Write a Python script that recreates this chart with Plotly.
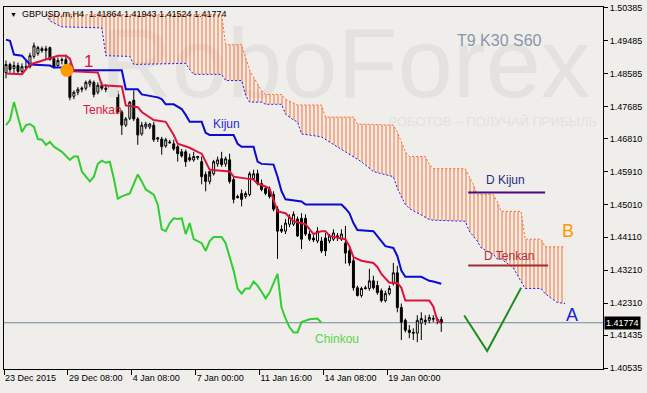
import plotly.graph_objects as go

# ---------------- data (prices) ----------------
bars = list(range(110))
opens = [1.4862,1.4884,1.4873,1.4881,1.4865,1.4878,1.4878,1.4906,1.4914,1.4927,
         1.4922,1.4930,1.4900,1.4881,1.4895,1.4897,1.4881,1.4797,1.4808,1.4816,
         1.4819,1.4830,1.4835,1.4808,1.4827,1.4819,1.4819,1.4822,1.4802,1.4754,
         1.4718,1.4737,1.4786,1.4735,1.4694,1.4713,1.4713,1.4718,1.4680,1.4680,
         1.4661,1.4672,1.4667,1.4659,1.4645,1.4645,1.4629,1.4623,1.4629,1.4618,
         1.4583,1.4564,1.4585,1.4612,1.4626,1.4612,1.4623,1.4569,1.4523,1.4531,
         1.4523,1.4528,1.4572,1.4585,1.4558,1.4545,1.4542,1.4528,1.4488,1.4433,
         1.4428,1.4447,1.4447,1.4461,1.4463,1.4463,1.4420,1.4409,1.4401,1.4401,
         1.4409,1.4401,1.4406,1.4412,1.4406,1.4395,1.4374,1.4347,1.4273,1.4252,
         1.4273,1.4271,1.4292,1.4279,1.4265,1.4238,1.4257,1.4284,1.4314,1.4219,
         1.4184,1.4157,1.4151,1.4149,1.4176,1.4184,1.4184,1.4187,1.4184,1.41864]
highs = [1.4895,1.4889,1.4892,1.4889,1.4887,1.4895,1.4916,1.4944,1.4935,1.4933,
         1.4935,1.4933,1.4903,1.4903,1.4903,1.4911,1.4889,1.4813,1.4822,1.4824,
         1.4840,1.4843,1.4840,1.4835,1.4835,1.4830,1.4835,1.4830,1.4813,1.4759,
         1.4740,1.4784,1.4813,1.4740,1.4727,1.4727,1.4724,1.4727,1.4686,1.4686,
         1.4683,1.4678,1.4678,1.4664,1.4653,1.4651,1.4640,1.4645,1.4634,1.4632,
         1.4591,1.4577,1.4623,1.4632,1.4645,1.4632,1.4640,1.4577,1.4528,1.4542,
         1.4537,1.4591,1.4596,1.4596,1.4569,1.4550,1.4550,1.4537,1.4496,1.4444,
         1.4461,1.4474,1.4482,1.4468,1.4477,1.4474,1.4428,1.4417,1.4439,1.4412,
         1.4423,1.4420,1.4433,1.4423,1.4433,1.4442,1.4387,1.4355,1.4279,1.4276,
         1.4279,1.4325,1.4306,1.4292,1.4271,1.4265,1.4279,1.4341,1.4333,1.4230,
         1.4189,1.4171,1.4162,1.4198,1.4206,1.4198,1.4200,1.4198,1.4192,1.41943]
lows = [1.4846,1.4862,1.4859,1.4857,1.4859,1.4870,1.4873,1.4900,1.4908,1.4916,
        1.4897,1.4895,1.4873,1.4878,1.4884,1.4878,1.4786,1.4789,1.4800,1.4808,
        1.4813,1.4822,1.4794,1.4802,1.4813,1.4808,1.4808,1.4802,1.4748,1.4691,
        1.4713,1.4732,1.4729,1.4664,1.4689,1.4707,1.4707,1.4672,1.4672,1.4637,
        1.4656,1.4667,1.4648,1.4618,1.4629,1.4604,1.4618,1.4618,1.4623,1.4556,
        1.4537,1.4556,1.4580,1.4604,1.4604,1.4604,1.4558,1.4504,1.4517,1.4496,
        1.4517,1.4523,1.4569,1.4553,1.4537,1.4526,1.4517,1.4482,1.4352,1.4423,
        1.4420,1.4439,1.4442,1.4412,1.4379,1.4415,1.4401,1.4398,1.4395,1.4368,
        1.4360,1.4395,1.4401,1.4401,1.4401,1.4339,1.4333,1.4265,1.4249,1.4246,
        1.4268,1.4265,1.4268,1.4254,1.4233,1.4233,1.4252,1.4279,1.4206,1.4130,
        1.4151,1.4135,1.4130,1.4124,1.4130,1.4171,1.4176,1.4179,1.4173,1.41524]
closes = [1.4884,1.4870,1.4881,1.4865,1.4878,1.4876,1.4908,1.4935,1.4930,1.4922,
          1.4927,1.4897,1.4876,1.4895,1.4897,1.4884,1.4794,1.4808,1.4816,1.4819,
          1.4835,1.4838,1.4802,1.4827,1.4819,1.4816,1.4824,1.4813,1.4754,1.4718,
          1.4735,1.4781,1.4735,1.4691,1.4718,1.4721,1.4721,1.4678,1.4683,1.4659,
          1.4678,1.4670,1.4653,1.4640,1.4634,1.4618,1.4623,1.4632,1.4632,1.4577,
          1.4564,1.4591,1.4618,1.4623,1.4610,1.4626,1.4564,1.4515,1.4520,1.4515,
          1.4531,1.4585,1.4585,1.4558,1.4542,1.4531,1.4523,1.4488,1.4428,1.4428,
          1.4450,1.4466,1.4474,1.4415,1.4406,1.4420,1.4406,1.4404,1.4428,1.4374,
          1.4374,1.4415,1.4423,1.4415,1.4420,1.4368,1.4341,1.4273,1.4252,1.4271,
          1.4271,1.4292,1.4273,1.4260,1.4238,1.4257,1.4271,1.4314,1.4219,1.4179,
          1.4157,1.4151,1.4149,1.4184,1.4189,1.4181,1.4192,1.4189,1.4187,1.41774]

tenkan_idx = [0,4,6,11,13,15,16,17,23,24,29,30,33,34,37,40,42,43,46,48,49,50,51,56,57,62,63,
              65,66,68,70,72,75,77,79,80,81,85,86,87,89,92,93,94,96,98,99,100,106,107,108,109]
tenkan = [1.4859,1.4857,1.4884,1.4900,1.4908,1.4908,1.4900,1.4865,1.4862,1.4827,1.4824,1.4772,
          1.4767,1.4754,1.4732,1.4727,1.4691,1.4667,1.4656,1.4645,1.4640,1.4618,1.4596,1.4591,
          1.4577,1.4569,1.4558,1.4550,1.4545,1.4482,1.4477,1.4455,1.4447,1.4420,1.4428,1.4428,
          1.4415,1.4406,1.4387,1.4357,1.4347,1.4341,1.4330,1.4311,1.4287,1.4287,1.4273,1.4238,
          1.4238,1.4222,1.4184,1.4176]

kijun_idx = [0,1,2,4,6,11,12,15,16,29,30,33,34,38,39,40,42,44,45,46,49,50,51,57,58,59,62,63,
             64,67,68,69,70,74,75,84,85,86,87,88,92,94,95,97,98,99,100,104,106,107,109]
kijun = [1.4952,1.4949,1.4911,1.4908,1.4884,1.4881,1.4876,1.4876,1.4868,1.4868,1.4816,1.4816,
         1.4802,1.4794,1.4789,1.4775,1.4775,1.4762,1.4746,1.4727,1.4727,1.4697,1.4691,1.4691,
         1.4667,1.4659,1.4659,1.4618,1.4612,1.4610,1.4577,1.4537,1.4515,1.4509,1.4501,1.4501,
         1.4490,1.4477,1.4450,1.4431,1.4428,1.4401,1.4387,1.4382,1.4360,1.4320,1.4303,1.4303,
         1.4292,1.4290,1.4284]

chinkou_idx = [0,1,2,4,5,6,7,8,9,10,11,12,14,16,17,18,19,21,22,23,24,25,26,27,28,29,31,32,33,
               34,35,37,38,39,40,41,42,43,44,45,46,47,48,49,50,51,52,54,55,56,57,58,59,60,61,
               62,63,64,65,66,67,68,69,70,71,72,73,74,76,78,79]
chinkou = [1.4718,1.4732,1.4781,1.4699,1.4718,1.4721,1.4713,1.4680,1.4678,1.4664,1.4672,1.4659,
           1.4645,1.4623,1.4632,1.4632,1.4591,1.4564,1.4577,1.4612,1.4621,1.4615,1.4618,1.4572,
           1.4517,1.4523,1.4531,1.4558,1.4583,1.4564,1.4542,1.4528,1.4501,1.4433,1.4428,1.4450,
           1.4463,1.4461,1.4463,1.4420,1.4450,1.4406,1.4401,1.4395,1.4374,1.4401,1.4412,1.4412,
           1.4395,1.4355,1.4320,1.4271,1.4257,1.4271,1.4271,1.4290,1.4279,1.4262,1.4244,1.4260,
           1.4284,1.4311,1.4219,1.4189,1.4165,1.4151,1.4151,1.4179,1.4187,1.4189,1.41774]

span_b_idx = [10,54,55,59,60,61,62,64,65,69,70,73,79,80,87,88,97,98,100,101,105,106,107,115,
              116,117,118,122,123,124,129,130,134,135,140]
span_b = [1.5020,1.5020,1.4938,1.4938,1.4903,1.4868,1.4849,1.4813,1.4802,1.4802,1.4789,1.4773,
          1.4773,1.4740,1.4740,1.4721,1.4718,1.4699,1.4645,1.4632,1.4632,1.4610,1.4599,1.4599,
          1.4577,1.4556,1.4528,1.4528,1.4509,1.4482,1.4482,1.4406,1.4406,1.4385,1.4385]
span_a_idx = [10,11,13,14,24,25,31,32,45,46,47,54,55,59,60,61,64,65,69,70,72,73,74,79,81,85,
              89,92,97,98,100,101,106,107,115,116,118,119,122,123,124,127,129,130,134,135,138,140]
span_a = [1.5020,1.5003,1.4992,1.4987,1.4984,1.4908,1.4906,1.4884,1.4887,1.4870,1.4857,1.4857,
          1.4840,1.4840,1.4800,1.4781,1.4781,1.4775,1.4775,1.4748,1.4732,1.4727,1.4694,1.4686,
          1.4672,1.4645,1.4618,1.4591,1.4577,1.4545,1.4501,1.4490,1.4460,1.4458,1.4455,1.4428,
          1.4401,1.4382,1.4365,1.4352,1.4352,1.4328,1.4292,1.4271,1.4271,1.4257,1.4233,1.4230]

tick_bars = [-0.5, 15.5, 31.5, 47.5, 63.5, 79.5, 95.5]
tick_dates = ["23 Dec 2015", "29 Dec 08:00", "4 Jan 08:00", "7 Jan 00:00",
              "11 Jan 16:00", "14 Jan 08:00", "19 Jan 00:00"]
price_ticks = [1.50385, 1.49485, 1.48585, 1.47685, 1.46810, 1.45910, 1.45010,
               1.44110, 1.43210, 1.42310, 1.41435, 1.40535]
price_labels = ["1.50385", "1.49485", "1.48585", "1.47685", "1.46810", "1.45910", "1.45010",
                "1.44110", "1.43210", "1.42310", "1.41435", "1.40535"]

last_price = 1.41774
last_label = "1.41774"
header = "GBPUSD.m,H4  1.41864 1.41943 1.41524 1.41774"

# drawn objects on the chart (bar index, price)
v_bars = [114.75, 120.5, 129.0]
v_prices = [1.4197, 1.4100, 1.4273]
d_kijun_bars = [115.75, 135.0]
d_kijun_price = 1.4534
d_tenkan_bars = [115.75, 135.75]
d_tenkan_price = 1.4334
signal_bar, signal_price = 15.25, 1.4868

BG = "#efeeea"
FONT = "Liberation Sans"

fig = go.Figure()

# watermark (behind everything)
fig.add_trace(go.Scatter(x=[85.0], y=[1.4862], mode="text", text=["RoboForex"],
                         textfont=dict(size=99, color="#e3e2de", family=FONT),
                         hoverinfo="skip", showlegend=False))
fig.add_trace(go.Scatter(x=[148.0], y=[1.4724], mode="text",
                         text=["РОБОТОВ – ПОЛУЧАЙ ПРИБЫЛЬ"], textposition="middle left",
                         textfont=dict(size=13, color="#e2e1dd", family=FONT),
                         hoverinfo="skip", showlegend=False))

# ichimoku cloud
fig.add_trace(go.Scatter(x=span_b_idx, y=span_b, mode="lines",
                         line=dict(color="#ff6a2a", width=1, dash="2px,2px"),
                         hoverinfo="skip", showlegend=False))
fig.add_trace(go.Scatter(x=span_a_idx, y=span_a, mode="lines",
                         line=dict(color="#1a1aff", width=1, dash="2px,2px"),
                         fill="tonexty", fillcolor="rgba(0,0,0,0)",
                         fillpattern=dict(shape="|", fgcolor="#ff6a2a", bgcolor="rgba(0,0,0,0)",
                                          size=4, solidity=0.28, fgopacity=0.9),
                         hoverinfo="skip", showlegend=False))

# chinkou
fig.add_trace(go.Scatter(x=chinkou_idx, y=chinkou, mode="lines",
                         line=dict(color="#32cd32", width=2), showlegend=False))

# candles
fig.add_trace(go.Candlestick(x=bars, open=opens, high=highs, low=lows, close=closes,
                             increasing=dict(fillcolor="white", line=dict(color="black", width=1)),
                             decreasing=dict(fillcolor="black", line=dict(color="black", width=1)),
                             whiskerwidth=0, showlegend=False))

# kijun / tenkan
fig.add_trace(go.Scatter(x=kijun_idx, y=kijun, mode="lines",
                         line=dict(color="#0a0ad2", width=2), showlegend=False))
fig.add_trace(go.Scatter(x=tenkan_idx, y=tenkan, mode="lines",
                         line=dict(color="#dc143c", width=2), showlegend=False))

# drawn objects
fig.add_trace(go.Scatter(x=d_kijun_bars, y=[d_kijun_price] * 2, mode="lines",
                         line=dict(color="#4b0a7d", width=2), showlegend=False))
fig.add_trace(go.Scatter(x=d_tenkan_bars, y=[d_tenkan_price] * 2, mode="lines",
                         line=dict(color="#a52a2a", width=2), showlegend=False))
fig.add_trace(go.Scatter(x=v_bars, y=v_prices, mode="lines",
                         line=dict(color="#1e8c1e", width=2), showlegend=False))
fig.add_trace(go.Scatter(x=[signal_bar], y=[signal_price], mode="markers",
                         marker=dict(size=13, color="#ff9900"), showlegend=False))

# bid line
fig.add_shape(type="line", xref="paper", x0=0, x1=1, yref="y", y0=last_price, y1=last_price,
              line=dict(color="#778899", width=1), layer="below")

ann = []
def label(text, x, y, color, size=12, xanchor="left"):
    ann.append(dict(x=x, y=y, xref="x", yref="y", text=text, showarrow=False,
                    xanchor=xanchor, yanchor="middle",
                    font=dict(family=FONT, size=size, color=color)))

label("Tenkan", 18.75, 1.4759, "#dc143c")
label("Kijun", 51.25, 1.4721, "#2a2ad8")
label("Chinkou", 77.0, 1.4132, "#5cd64a")
label("1", 19.0, 1.4892, "#dc143c", size=17)
label("D Kijun", 119.75, 1.4569, "#2a2a80")
label("D Tenkan", 119.25, 1.4360, "#b5303a")
label("B", 140.75, 1.4428, "#ff9900", size=18, xanchor="center")
label("A", 141.75, 1.4198, "#1a1adb", size=18, xanchor="center")

ann.append(dict(xref="paper", yref="paper", x=0.828, y=0.907, text="T9 K30 S60",
                showarrow=False, xanchor="center", yanchor="middle",
                font=dict(family=FONT, size=16, color="#8797ab")))
ann.append(dict(xref="paper", yref="paper", x=0.006, y=0.981,
                text="<span style='font-size:7px'>▼</span>  " + header,
                showarrow=False, xanchor="left", yanchor="middle",
                font=dict(family=FONT, size=9, color="black")))
ann.append(dict(xref="paper", yref="y", x=1, y=last_price, xshift=1, text=last_label,
                showarrow=False, xanchor="left", yanchor="middle", bgcolor="black",
                borderpad=1, font=dict(family=FONT, size=9, color="white")))

fig.update_layout(
    width=647, height=393,
    margin=dict(l=3, r=44, t=4, b=24),
    paper_bgcolor=BG, plot_bgcolor=BG,
    showlegend=False,
    annotations=ann,
    xaxis=dict(range=[-0.5, 149.5], rangeslider=dict(visible=False), showgrid=False,
               zeroline=False, showline=True, mirror=True, linecolor="black", linewidth=1,
               tickmode="array", tickvals=tick_bars, ticktext=tick_dates,
               ticks="outside", ticklen=5, tickcolor="black",
               ticklabelposition="outside right",
               tickfont=dict(family=FONT, size=9, color="black")),
    yaxis=dict(range=[1.40508, 1.50412], side="right", showgrid=False, zeroline=False,
               showline=True, mirror=True, linecolor="black", linewidth=1,
               tickmode="array", tickvals=price_ticks, ticktext=price_labels,
               ticks="outside", ticklen=4, tickcolor="black",
               tickfont=dict(family=FONT, size=9, color="black")),
)

fig.write_html("out.html", config={"displayModeBar": False},
               post_script="document.body.style.margin='0';document.body.style.padding='0';"
                           "document.body.style.background='" + BG + "';")
